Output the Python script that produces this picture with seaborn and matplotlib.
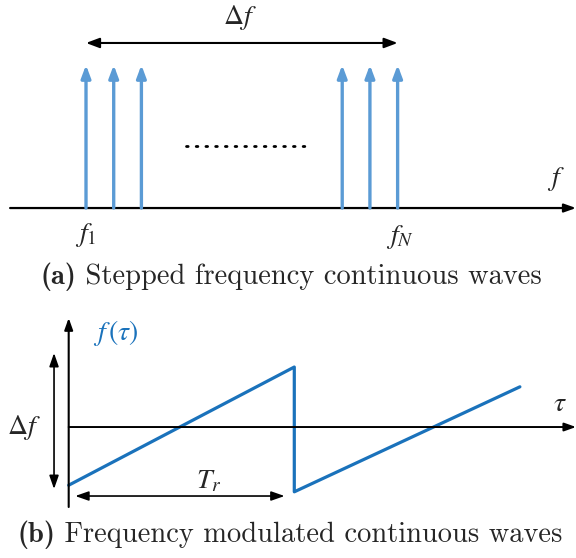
import numpy as np
import matplotlib
matplotlib.use("Agg")
import matplotlib.pyplot as plt
import seaborn as sns
from matplotlib.offsetbox import TextArea, HPacker, AnnotationBbox

# (a) stepped frequency tones: positions of the carriers (arbitrary step units)
step_freqs = [1.0, 2.0, 3.0, 10.25, 11.25, 12.25]
step_amps = [1.0, 1.0, 1.0, 1.0, 1.0, 1.0]

# (b) sawtooth FMCW: time in units of T_r, frequency in units of half-sweep
saw_tau = [0.0, 1.0, 1.0, 2.0]
saw_freq = [-0.97, 1.0, -1.08, 0.67]

captions = [("(a)", " Stepped frequency continuous waves"),
            ("(b)", " Frequency modulated continuous waves")]

stem_color = "#5b9bd5"
saw_color = "#1a72bb"

sns.set_style("white")
plt.rcParams["mathtext.fontset"] = "stix"

W, H = 576, 558
fig = plt.figure(figsize=(W / 100, H / 100), dpi=100)


def arrow(ax, xy_from, xy_to, color="black", lw=1.5, style="-|>", hl=0.8, hw=0.3):
    ax.annotate("", xy=xy_to, xytext=xy_from,
                arrowprops=dict(arrowstyle=f"{style},head_length={hl},head_width={hw}",
                                color=color, lw=lw, shrinkA=0, shrinkB=0,
                                mutation_scale=10))


def caption(xy, tag, rest, size=20.5):
    box = HPacker(children=[
        TextArea(tag, textprops=dict(family="cmb10", size=size)),
        TextArea(rest, textprops=dict(family="cmr10", size=size)),
    ], pad=0, sep=0, align="baseline")
    ab = AnnotationBbox(box, xy, xycoords="figure fraction", frameon=False,
                        box_alignment=(0.5, 0.5), pad=0)
    fig.add_artist(ab)


# ---------------- panel (a) ----------------
ax_a = fig.add_axes([0, 258 / H, 1, 300 / H])
ax_a.set_xlim(-2.105, 18.69)
ax_a.set_ylim(-0.643, 1.4545)
ax_a.axis("off")

# frequency axis
arrow(ax_a, (-1.74, 0), (18.69, 0), lw=1.6, hl=0.7, hw=0.25)

# carriers
for fx, amp in zip(step_freqs, step_amps):
    arrow(ax_a, (fx, 0), (fx, amp), color=stem_color, lw=2.4, hl=0.75, hw=0.28)

# bandwidth marker
arrow(ax_a, (step_freqs[0], 1.154), (step_freqs[-1], 1.154), lw=1.5,
      style="<|-|>", hl=0.8, hw=0.3)
ax_a.text(6.56, 1.33, r"$\Delta f$", fontsize=20, ha="center", va="center")

# ellipsis
ax_a.plot([4.6, 8.9], [0.434, 0.434], color="black", lw=2.0,
          linestyle=(0, (0.6, 2.9)), dash_capstyle="round")

ax_a.text(17.97, 0.2, r"$f$", fontsize=20, ha="center", va="center")
ax_a.text(step_freqs[0], -0.19, r"$f_1$", fontsize=20, ha="center", va="center")
ax_a.text(step_freqs[-1] + 0.1, -0.2, r"$f_N$", fontsize=20, ha="center", va="center")

# ---------------- panel (b) ----------------
ax_b = fig.add_axes([0, 0, 1, 258 / H])
ax_b.set_xlim(-0.3045, 2.2487)
ax_b.set_ylim(-2.183, 2.117)

sns.lineplot(x=saw_tau, y=saw_freq, ax=ax_b, sort=False, color=saw_color,
             lw=2.3, estimator=None)
ax_b.axis("off")

# axes
arrow(ax_b, (0, 0), (2.2487, 0), lw=1.4, hl=0.7, hw=0.25)
arrow(ax_b, (0, -1.333), (0, 1.817), lw=1.5, hl=0.7, hw=0.25)

ax_b.text(0.21, 1.567, r"$f\,(\tau)$", fontsize=20, color=saw_color,
          ha="center", va="center")
ax_b.text(2.178, 0.4, r"$\tau$", fontsize=20, ha="center", va="center")
ax_b.text(-0.198, 0.0, r"$\Delta f$", fontsize=20, ha="center", va="center")
ax_b.text(0.622, -0.883, r"$T_r$", fontsize=20, ha="center", va="center")

arrow(ax_b, (-0.065, -1.033), (-0.065, 1.233), lw=1.2, style="<|-|>", hl=0.8, hw=0.28)
arrow(ax_b, (0.029, -1.15), (0.957, -1.15), lw=1.2, style="<|-|>", hl=0.8, hw=0.28)

# captions
caption((291 / W, 1 - 277 / H), *captions[0])
caption((290 / W, 1 - 535 / H), *captions[1])

fig.savefig("out.png", dpi=100, facecolor="white")
